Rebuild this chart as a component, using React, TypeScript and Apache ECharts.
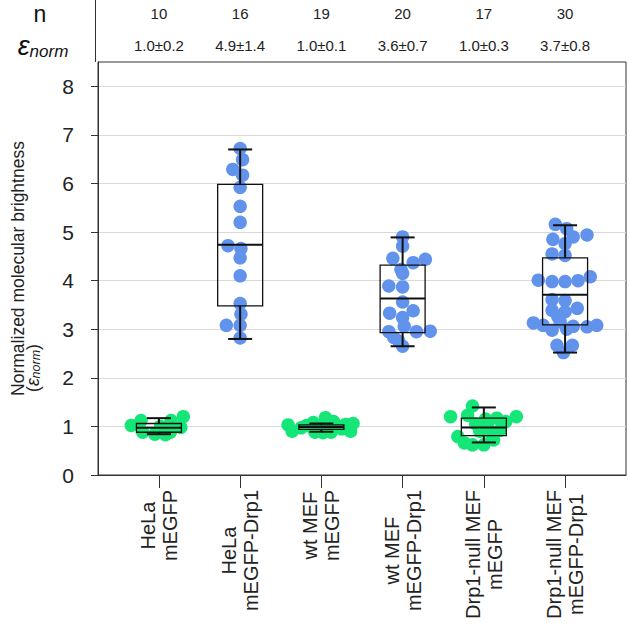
import React, { useEffect, useRef } from "react";
import * as echarts from "echarts";

const FONT = "'Liberation Sans', Arial, sans-serif";

const categories = [
  "HeLa\nmEGFP",
  "HeLa\nmEGFP-Drp1",
  "wt MEF\nmEGFP",
  "wt MEF\nmEGFP-Drp1",
  "Drp1-null MEF\nmEGFP",
  "Drp1-null MEF\nmEGFP-Drp1",
];
const nCounts = ["10", "16", "19", "20", "17", "30"];
const epsValues = ["1.0±0.2", "4.9±1.4", "1.0±0.1", "3.6±0.7", "1.0±0.3", "3.7±0.8"];
const yTicks = [0, 1, 2, 3, 4, 5, 6, 7, 8];
const xTicks = [0, 1, 2, 3, 4, 5];

// [min, Q1, median, Q3, max]
const boxStats = [
  [0.84, 0.88, 0.97, 1.06, 1.17],
  [2.8, 3.48, 4.74, 5.98, 6.7],
  [0.89, 0.94, 0.99, 1.03, 1.06],
  [2.65, 2.93, 3.63, 4.32, 4.89],
  [0.67, 0.81, 0.98, 1.17, 1.39],
  [2.52, 3.09, 3.71, 4.47, 5.14],
];

// [x offset from category, value]
const pointsHeLaEGFP = [
  [-0.34, 1.02], [-0.22, 1.12], [-0.2, 0.88], [-0.05, 0.84], [0.02, 1.0],
  [0.08, 0.83], [0.14, 0.88], [0.15, 1.12], [0.27, 0.98], [0.3, 1.2],
];
const pointsHeLaDrp1 = [
  [0, 6.72], [0.03, 6.49], [-0.09, 6.29], [0.03, 6.17], [0, 5.92], [0, 5.53],
  [0, 5.2], [-0.15, 4.72], [0.01, 4.66], [0, 4.47], [0, 4.1], [0, 3.53],
  [0.01, 3.31], [-0.17, 3.08], [0, 3.08], [0, 2.82],
];
const pointsWtEGFP = [
  [-0.41, 1.03], [-0.36, 0.9], [-0.25, 0.97], [-0.18, 1.02], [-0.1, 1.08],
  [-0.08, 0.88], [-0.04, 0.98], [0, 1.0], [0.02, 0.87], [0.05, 1.18],
  [0.06, 1.05], [0.1, 0.96], [0.12, 0.88], [0.15, 1.1], [0.2, 1.0],
  [0.25, 0.95], [0.3, 1.04], [0.36, 0.9], [0.39, 1.06],
];
const pointsWtDrp1 = [
  [0, 4.9], [0, 4.71], [-0.12, 4.46], [0.13, 4.37], [0.28, 4.44], [-0.02, 4.23],
  [0, 4.15], [-0.17, 3.89], [0, 3.87], [0, 3.56], [-0.16, 3.33], [0.13, 3.38],
  [0, 3.24], [0.02, 3.06], [-0.17, 2.95], [0.17, 2.95], [0.34, 2.96],
  [-0.11, 2.83], [-0.05, 2.76], [0, 2.65],
];
const pointsNullEGFP = [
  [-0.41, 1.2], [-0.32, 0.79], [-0.24, 0.66], [-0.2, 1.23], [-0.14, 1.42],
  [-0.14, 0.62], [-0.1, 1.05], [-0.05, 0.9], [0, 0.62], [0.02, 1.15],
  [0.05, 0.98], [0.1, 0.8], [0.12, 0.72], [0.16, 1.17], [0.2, 0.92],
  [0.27, 1.1], [0.4, 1.2],
];
const pointsNullDrp1 = [
  [-0.12, 5.16], [0.02, 5.07], [-0.15, 4.85], [0.1, 4.9], [0.27, 4.94], [0, 4.76],
  [-0.16, 4.55], [0, 4.52], [-0.33, 4.01], [-0.16, 3.98], [0, 3.98], [0.16, 4.0],
  [0.31, 4.08], [-0.16, 3.61], [0, 3.59], [-0.16, 3.39], [0, 3.36], [0.15, 3.43],
  [-0.09, 3.26], [-0.39, 3.13], [-0.27, 3.08], [-0.06, 3.15], [0.1, 3.06],
  [0.27, 3.05], [0.39, 3.08], [-0.16, 2.98], [0.02, 3.0], [-0.1, 2.67],
  [0.09, 2.67], [-0.02, 2.52],
];
const groupPoints = [
  pointsHeLaEGFP, pointsHeLaDrp1, pointsWtEGFP, pointsWtDrp1, pointsNullEGFP, pointsNullDrp1,
];
const GREEN = "#14E677";
const BLUE = "#6193EC";
const groupIsDrp1 = [false, true, false, true, false, true];

export default function App() {
  const ref = useRef<HTMLDivElement>(null);
  useEffect(() => {
    if (!ref.current) return;
    const chart = echarts.init(ref.current, null, { renderer: "svg" });
    const greenData: number[][] = [];
    const blueData: number[][] = [];
    groupPoints.forEach((pts, i) => {
      pts.forEach(([dx, v]) => {
        (groupIsDrp1[i] ? blueData : greenData).push([i + dx, v]);
      });
    });
    const boxData = boxStats.map((s, i) => [i, ...s]);
    const axisColor = "#333";
    const textColor = "#222";
    const xMin = -0.75;
    const xMax = 5.75;

    const topAxis = (labels: string[], offset: number) => ({
      type: "value",
      position: "top",
      gridIndex: 0,
      min: xMin,
      max: xMax,
      offset,
      axisLine: { show: false, onZero: false },
      axisTick: { show: false },
      splitLine: { show: false },
      axisLabel: {
        customValues: xTicks,
        formatter: (v: number) => labels[Math.round(v)] ?? "",
        fontSize: 15,
        fontFamily: FONT,
        color: textColor,
        margin: 9,
      },
    });
    const option: any = {
      animation: false,
      grid: {
        left: 95,
        right: 3,
        top: 62,
        bottom: 150,
        show: true,
        borderColor: axisColor,
        borderWidth: 1,
        backgroundColor: "transparent",
      },
      xAxis: [
        {
          type: "value",
          position: "bottom",
          min: xMin,
          max: xMax,
          axisLine: { onZero: false, lineStyle: { color: axisColor, width: 1 } },
          axisTick: { customValues: xTicks, length: 13, lineStyle: { color: axisColor, width: 1 } },
          splitLine: { show: false },
          axisLabel: {
            customValues: xTicks,
            rotate: 90,
            margin: 15,
            formatter: (v: number) => {
              const c = categories[Math.round(v)];
              if (!c) return "";
              return c
                .split("\n")
                .map((l) => `{c|${l}}`)
                .join("\n");
            },
            rich: {
              c: { align: "center", fontSize: 20, lineHeight: 22, fontFamily: FONT, color: textColor },
            },
          },
        },
        topAxis(epsValues, 0),
        topAxis(nCounts, 32),
      ],
      yAxis: {
        type: "value",
        position: "left",
        min: 0,
        max: 8.5,
        interval: 1,
        axisLine: { show: true, onZero: false, lineStyle: { color: axisColor, width: 1 } },
        axisTick: { show: true, customValues: yTicks, length: 7, lineStyle: { color: axisColor } },
        splitLine: { show: true, lineStyle: { color: "#d9d9d9", width: 1 } },
        axisLabel: {
          customValues: yTicks,
          fontSize: 21,
          fontFamily: FONT,
          color: textColor,
          margin: 24,
        },
        name: "Normalized molecular brightness",
        nameLocation: "middle",
        nameGap: 71,
        nameTextStyle: { fontSize: 17.5, fontFamily: FONT, color: textColor, lineHeight: 19 },
      },
      graphic: [
        {
          type: "line",
          shape: { x1: 95.5, y1: 0, x2: 95.5, y2: 62 },
          style: { stroke: axisColor, lineWidth: 1 },
        },
        {
          type: "text",
          x: 40,
          y: 14,
          style: { text: "n", fontSize: 23, fontFamily: FONT, fill: "#111", align: "center", verticalAlign: "middle" },
        },
        {
          type: "text",
          x: 43,
          y: 46,
          style: {
            text: "{e|ε}{s|norm}",
            align: "center",
            verticalAlign: "middle",
            rich: {
              e: { fontSize: 27, fontStyle: "italic", fontFamily: FONT, fill: "#111" },
              s: { fontSize: 17, fontStyle: "italic", fontFamily: FONT, fill: "#111", verticalAlign: "bottom" },
            },
          },
        },
        {
          type: "text",
          x: 33,
          y: 368,
          rotation: Math.PI / 2,
          style: {
            text: "{t|(}{e|ε}{s|norm}{t|)}",
            align: "center",
            verticalAlign: "middle",
            rich: {
              t: { fontSize: 17.5, fontFamily: FONT, fill: textColor, lineHeight: 19 },
              e: { fontSize: 17.5, fontStyle: "italic", fontFamily: FONT, fill: textColor, lineHeight: 19 },
              s: { fontSize: 12.5, fontStyle: "italic", fontFamily: FONT, fill: textColor, verticalAlign: "bottom", lineHeight: 19 },
            },
          },
        },
      ],
      series: [
        {
          type: "scatter",
          data: greenData,
          symbolSize: 13.5,
          itemStyle: { color: GREEN, opacity: 1 },
          z: 2,
        },
        {
          type: "scatter",
          data: blueData,
          symbolSize: 13.5,
          itemStyle: { color: BLUE, opacity: 1 },
          z: 2,
        },
        {
          type: "custom",
          data: boxData,
          encode: { x: 0, y: [1, 2, 3, 4, 5] },
          z: 5,
          renderItem: (params: any, api: any) => {
            const x = api.value(0);
            const lo = api.coord([x, api.value(1)]);
            const q1 = api.coord([x, api.value(2)]);
            const md = api.coord([x, api.value(3)]);
            const q3 = api.coord([x, api.value(4)]);
            const hi = api.coord([x, api.value(5)]);
            const cx = lo[0];
            const bw = 45;
            const cw = 24;
            const ln = (x1: number, y1: number, x2: number, y2: number, w: number) => ({
              type: "line",
              shape: { x1, y1, x2, y2 },
              style: { stroke: "#111", lineWidth: w },
            });
            return {
              type: "group",
              children: [
                {
                  type: "rect",
                  shape: { x: cx - bw / 2, y: q3[1], width: bw, height: q1[1] - q3[1] },
                  style: { fill: "none", stroke: "#111", lineWidth: 1.3 },
                },
                ln(cx - bw / 2, md[1], cx + bw / 2, md[1], 2),
                ln(cx, q3[1], cx, hi[1], 2),
                ln(cx - cw / 2, hi[1], cx + cw / 2, hi[1], 2),
                ln(cx, q1[1], cx, lo[1], 2),
                ln(cx - cw / 2, lo[1], cx + cw / 2, lo[1], 2),
              ],
            };
          },
        },
      ],
    };
    chart.setOption(option);
    return () => chart.dispose();
  }, []);
  return (
    <div
      ref={ref}
      style={{ position: "fixed", left: 0, top: 0, width: 629, height: 625, background: "#fff" }}
    />
  );
}
